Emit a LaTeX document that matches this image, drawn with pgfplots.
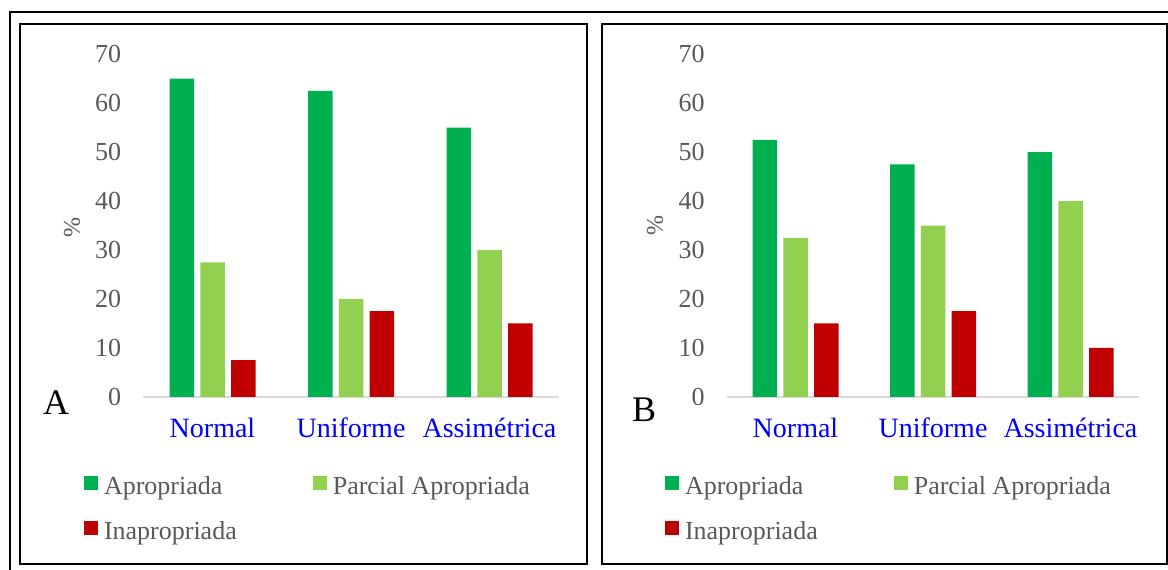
\documentclass[border=0pt]{standalone}
\usepackage{fontspec}
\setmainfont{Liberation Serif}
\usepackage{pgfplots}
\pgfplotsset{compat=1.18}

\definecolor{cApr}{HTML}{00B050}
\definecolor{cPar}{HTML}{92D050}
\definecolor{cIna}{HTML}{C00000}
\definecolor{tgray}{HTML}{595959}
\definecolor{agray}{HTML}{D9D9D9}

\pgfplotsset{
  panel/.style={
    scale only axis,
    height=343pt,
    ybar=6.25pt,
    bar width=24.5pt,
    ymin=0, ymax=70,
    xmin=-0.5, xmax=2.5,
    enlargelimits=false,
    xtick={0,1,2},
    xticklabels={Normal,Uniforme,Assimétrica},
    ytick={0,10,...,70},
    /pgf/number format/assume math mode=true,
    axis x line*=bottom,
    axis y line*=left,
    x axis line style={draw=agray, line width=1.5pt, -},
    y axis line style={draw=none},
    major tick length=0pt,
    tick style={draw=none},
    yticklabel style={font=\fontsize{26}{26}\selectfont, text=tgray, anchor=east, inner sep=0pt, xshift=-22pt},
    xticklabel style={font=\fontsize{28}{28}\selectfont, text=blue, anchor=base, inner sep=0pt, yshift=-41pt},
    ylabel={\%},
    ylabel style={font=\fontsize{24}{24}\selectfont, text=tgray, anchor=center},
    legend image code/.code={\fill[##1] (0pt,-4pt) rectangle (14pt,10pt);},
    legend cell align=left,
    legend columns=2,
    legend style={anchor=north west, draw=none, fill=none, inner sep=0pt, outer sep=0pt,
      font=\fontsize{26}{26}\selectfont, text=tgray,
      nodes={inner sep=0pt},
      row sep=25.5pt,
      /tikz/every odd column/.append style={column sep=6pt},
      /tikz/every even column/.append style={column sep=76pt}},
  }
}

\begin{document}
\begin{tikzpicture}[x=1pt,y=1pt]
\useasboundingbox (0,0) rectangle (1168,570);
\fill[white] (0,0) rectangle (1168,570);
\draw[line width=2pt] (10,-5) -- (10,558) -- (1175,558);
\draw[line width=2pt] (20,6) rectangle (587,546);
\draw[line width=2pt] (602,6) rectangle (1167,546);

% panel A
\begin{axis}[panel, at={(143.25pt,173pt)}, anchor=south west, width=415.5pt,
  ylabel style={at={(axis description cs:-0.1715,0.4956)}},
  legend style={at={(axis description cs:-0.1426,-0.2304)}}]
\addplot[fill=cApr, draw=none] coordinates {(0,65) (1,62.5) (2,55)};
\addplot[fill=cPar, draw=none] coordinates {(0,27.5) (1,20) (2,30)};
\addplot[fill=cIna, draw=none] coordinates {(0,7.5) (1,17.5) (2,15)};
\legend{Apropriada, Parcial Apropriada, Inapropriada}
\end{axis}

% panel B
\begin{axis}[panel, at={(726.75pt,173pt)}, anchor=south west, width=412.5pt,
  ylabel style={at={(axis description cs:-0.174,0.5)}},
  legend style={at={(axis description cs:-0.1497,-0.2304)}}]
\addplot[fill=cApr, draw=none] coordinates {(0,52.5) (1,47.5) (2,50)};
\addplot[fill=cPar, draw=none] coordinates {(0,32.5) (1,35) (2,40)};
\addplot[fill=cIna, draw=none] coordinates {(0,15) (1,17.5) (2,10)};
\legend{Apropriada, Parcial Apropriada, Inapropriada}
\end{axis}

\node[font=\fontsize{36}{36}\selectfont, inner sep=0pt] at (56,167.5) {A};
\node[font=\fontsize{36}{36}\selectfont, inner sep=0pt] at (644,160.5) {B};
\end{tikzpicture}
\end{document}
